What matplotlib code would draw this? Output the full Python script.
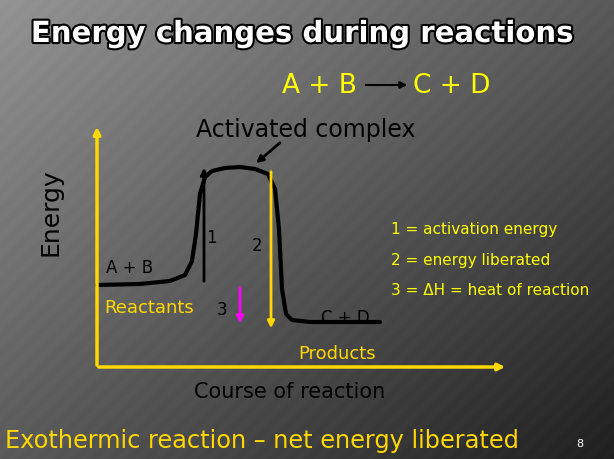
import numpy as np
import matplotlib
matplotlib.use("Agg")
import matplotlib.pyplot as plt
import matplotlib.patheffects as pe

# curve (pixel coordinates, y downward)
curve_x = [97, 140, 170, 185, 192, 196, 200, 205, 212, 225, 240, 255, 268, 275, 279, 282, 286, 292, 310, 340, 380]
curve_y = [286, 285, 282, 276, 262, 235, 195, 178, 172, 169, 168, 170, 175, 190, 230, 290, 315, 321, 323, 323, 323]
legend_lines = ["1 = activation energy", "2 = energy liberated", "3 = ΔH = heat of reaction"]

W, H = 614, 460
fig = plt.figure(figsize=(6.14, 4.6), dpi=100)
ax = fig.add_axes([0, 0, 1, 1])
ax.set_xlim(0, W); ax.set_ylim(H, 0); ax.axis('off')

yy, xx = np.mgrid[0:H, 0:W]
t = (xx / W * 0.6 + yy / H * 0.6)
g = 0.58 - 0.38 * t + 0.006 * np.sin((xx + yy) * 0.35)
img = np.dstack([g, g, g]).clip(0, 1)
ax.imshow(img, extent=[0, W, H, 0], zorder=0)

yel = '#ffd800'
ax.text(302, 35, "Energy changes during reactions", color='white', fontsize=21, fontweight='bold',
        ha='center', va='center', path_effects=[pe.withStroke(linewidth=3, foreground='black')])
ax.text(357, 86, "A + B", color='#ffff00', fontsize=19, ha='right', va='center')
ax.annotate("", xy=(410, 86), xytext=(363, 86), arrowprops=dict(arrowstyle='-|>', color='black', lw=1.5))
ax.text(413, 86, "C + D", color='#ffff00', fontsize=19, ha='left', va='center')

ax.annotate("", xy=(97, 125), xytext=(97, 369), arrowprops=dict(arrowstyle='-|>', color=yel, lw=2.5))
ax.annotate("", xy=(508, 368), xytext=(96, 368), arrowprops=dict(arrowstyle='-|>', color=yel, lw=2.5))

ax.plot(curve_x, curve_y, color='black', lw=3, solid_capstyle='round')

ax.annotate("", xy=(204, 166), xytext=(204, 285), arrowprops=dict(arrowstyle='-|>', color='black', lw=2))
ax.annotate("", xy=(271, 332), xytext=(271, 170), arrowprops=dict(arrowstyle='-|>', color=yel, lw=2))
ax.annotate("", xy=(240, 327), xytext=(240, 286), arrowprops=dict(arrowstyle='-|>', color='#ff00ff', lw=2))
ax.annotate("", xy=(254, 166), xytext=(282, 142), arrowprops=dict(arrowstyle='-|>', color='black', lw=2))

ax.text(306, 130, "Activated complex", color='black', fontsize=17, ha='center', va='center')
ax.text(50, 212, "Energy", color='black', fontsize=18, rotation=90, ha='center', va='center')
ax.text(211, 238, "1", fontsize=12, ha='center', va='center')
ax.text(257, 246, "2", fontsize=12, ha='center', va='center')
ax.text(222, 310, "3", fontsize=12, ha='center', va='center')
ax.text(130, 268, "A + B", fontsize=12, ha='center', va='center')
ax.text(345, 318, "C + D", fontsize=12, ha='center', va='center')
ax.text(104, 308, "Reactants", color=yel, fontsize=13, ha='left', va='center')
ax.text(337, 354, "Products", color=yel, fontsize=13, ha='center', va='center')
ax.text(290, 392, "Course of reaction", color='black', fontsize=15, ha='center', va='center')
for i, s in enumerate(legend_lines):
    ax.text(391, 230 + 30.5 * i, s, color='#ffff00', fontsize=11, ha='left', va='center')
ax.text(5, 441, "Exothermic reaction – net energy liberated", color=yel, fontsize=17.3, ha='left', va='center')
ax.text(580, 444, "8", color='white', fontsize=8, ha='center', va='center')

fig.savefig("out.png", dpi=100)
